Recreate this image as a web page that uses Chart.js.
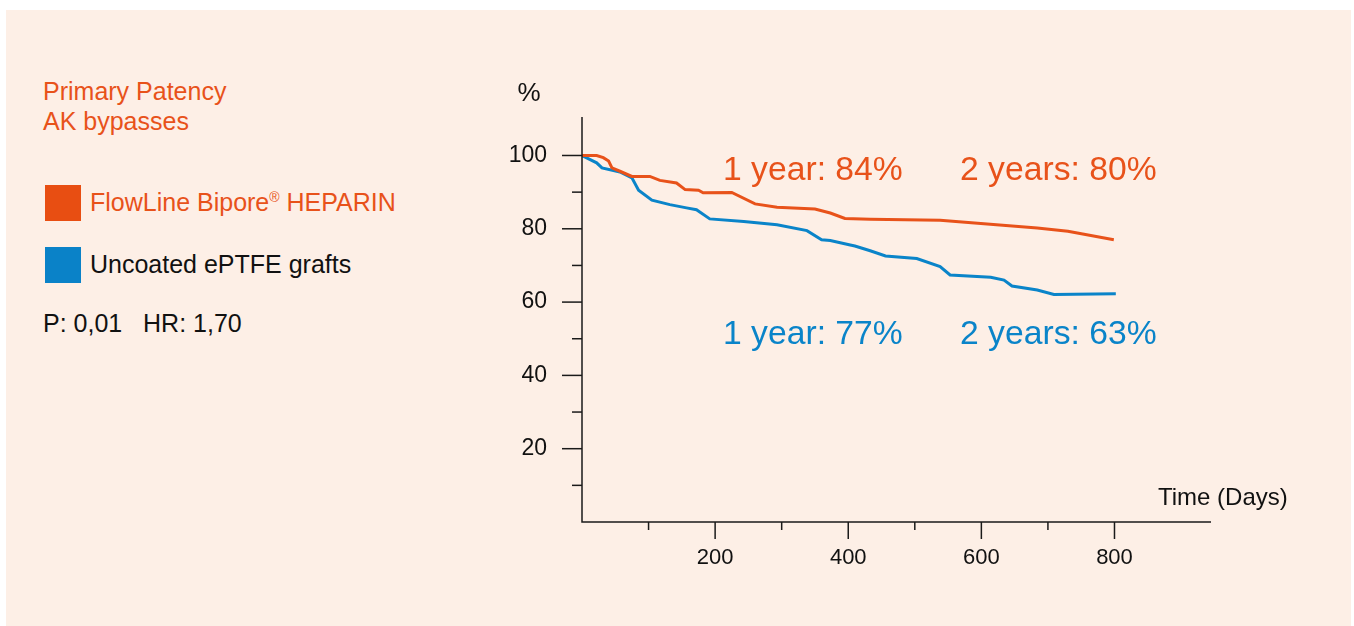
<!DOCTYPE html>
<html>
<head>
<meta charset="utf-8">
<script src="https://cdn.jsdelivr.net/npm/chart.js@4"></script>
<style>
  html, body { margin: 0; padding: 0; background: #ffffff; }
  body { width: 1354px; height: 626px; position: relative; overflow: hidden; font-family: "Liberation Sans", Arial, sans-serif; }
  #panel { position: absolute; left: 6px; top: 10px; width: 1345px; height: 616px; background: #fdefe6; }
  #wrap { position: absolute; left: 0; top: 0; width: 1354px; height: 626px; }
  .t { position: absolute; white-space: nowrap; font-size: 25px; line-height: 1; }
  .sw { position: absolute; width: 36px; height: 36px; }
</style>
</head>
<body>
<div id="panel"></div>
<div class="t" style="left:43px;top:79px;color:#e8521a;">Primary Patency</div>
<div class="t" style="left:43px;top:109px;color:#e8521a;">AK bypasses</div>
<div class="sw" style="left:45px;top:185px;background:#e84e12;"></div>
<div class="t" style="left:90px;top:190px;color:#e8521a;">FlowLine Bipore<sup style="font-size:14px;vertical-align:9px;line-height:0">®</sup> HEPARIN</div>
<div class="sw" style="left:45px;top:247px;background:#0a82c8;"></div>
<div class="t" style="left:90px;top:252px;color:#111;">Uncoated ePTFE grafts</div>
<div class="t" style="left:43px;top:311px;color:#111;">P: 0,01&nbsp;&nbsp;&nbsp;HR: 1,70</div>
<div id="wrap"><canvas id="c" width="1354" height="626"></canvas></div>
<script>
// ---- data ----
const heparinDays = [0, 22, 32, 40, 45, 57, 75, 102, 117, 142, 155, 175, 182, 225, 260, 293, 350, 373, 395, 433, 538, 684, 730, 799];
const heparinPct  = [100, 100, 99.4, 98.5, 96.6, 95.7, 94.3, 94.3, 93.2, 92.5, 90.7, 90.5, 89.8, 89.9, 86.8, 85.9, 85.4, 84.3, 82.8, 82.6, 82.3, 80.2, 79.3, 77];
const uncoatedDays = [0, 22, 30, 57, 75, 85, 105, 132, 157, 172, 192, 243, 293, 338, 360, 373, 403, 410, 433, 456, 503, 538, 553, 614, 634, 646, 684, 709, 802];
const uncoatedPct  = [100, 98, 96.6, 95.5, 93.9, 90.5, 87.8, 86.6, 85.7, 85.2, 82.7, 82, 81.1, 79.5, 77, 76.8, 75.6, 75.3, 74, 72.6, 71.9, 69.7, 67.4, 66.8, 66, 64.4, 63.3, 62.1, 62.3];
const xTickLabels = [200, 400, 600, 800];
const yTickLabels = [20, 40, 60, 80, 100];
const annotations = [
  { text: '1 year: 84%', series: 'heparin' },
  { text: '2 years: 80%', series: 'heparin' },
  { text: '1 year: 77%', series: 'uncoated' },
  { text: '2 years: 63%', series: 'uncoated' }
];

const ORANGE = '#e8521a';
const BLUE = '#0a84c9';
const FONT = '"Liberation Sans", Arial, sans-serif';

const toPts = (xs, ys) => xs.map((x, i) => ({ x: x, y: ys[i] }));

const axisPlugin = {
  id: 'axisPlugin',
  afterDraw(chart) {
    const ctx = chart.ctx;
    const xs = chart.scales.x, ys = chart.scales.y;
    const ca = chart.chartArea;
    ctx.save();
    ctx.strokeStyle = '#1a1a1a';
    ctx.lineWidth = 1.5;
    // axes lines
    ctx.beginPath();
    ctx.moveTo(ca.left, ca.top);
    ctx.lineTo(ca.left, ca.bottom);
    ctx.lineTo(ca.right, ca.bottom);
    ctx.stroke();
    // y ticks
    ys.ticks.forEach(t => {
      const v = t.value;
      if (v < 10 || v > 100 || Math.abs(v % 10) > 1e-6) return;
      const y = ys.getPixelForValue(v);
      const len = (v % 20 === 0) ? 20 : 10;
      ctx.beginPath();
      ctx.moveTo(ca.left - len, y);
      ctx.lineTo(ca.left, y);
      ctx.stroke();
    });
    // x ticks
    xs.ticks.forEach(t => {
      const v = t.value;
      if (v < 100 || v > 900 || Math.abs(v % 100) > 1e-6) return;
      const x = xs.getPixelForValue(v);
      const len = (v % 200 === 0) ? 17 : 8;
      ctx.beginPath();
      ctx.moveTo(x, ca.bottom);
      ctx.lineTo(x, ca.bottom + len);
      ctx.stroke();
    });
    // axis titles
    ctx.fillStyle = '#111';
    ctx.font = '26px ' + FONT;
    ctx.textAlign = 'center';
    ctx.textBaseline = 'alphabetic';
    ctx.fillText('%', ca.left - 53, 101);
    ctx.textAlign = 'left';
    ctx.font = '24px ' + FONT;
    ctx.fillText('Time (Days)', 1158, 505);
    // annotations
    ctx.font = '33.7px ' + FONT;
    const pos = [[723, 180], [960, 180], [723, 344], [960, 344]];
    annotations.forEach((a, i) => {
      ctx.fillStyle = a.series === 'heparin' ? ORANGE : BLUE;
      ctx.fillText(a.text, pos[i][0], pos[i][1]);
    });
    ctx.restore();
  }
};

new Chart(document.getElementById('c'), {
  type: 'scatter',
  data: {
    datasets: [
      { label: 'FlowLine Bipore® HEPARIN', data: toPts(heparinDays, heparinPct), showLine: true, borderColor: ORANGE, borderWidth: 3, pointRadius: 0, tension: 0, fill: false },
      { label: 'Uncoated ePTFE grafts', data: toPts(uncoatedDays, uncoatedPct), showLine: true, borderColor: BLUE, borderWidth: 3, pointRadius: 0, tension: 0, fill: false }
    ]
  },
  options: {
    responsive: false,
    animation: false,
    devicePixelRatio: 1,
    layout: { padding: { left: 500, right: 143, top: 117, bottom: 54 } },
    plugins: { legend: { display: false }, tooltip: { enabled: false } },
    scales: {
      x: {
        type: 'linear', min: 0, max: 945,
        border: { display: false },
        grid: { display: false },
        afterFit(s) { s.height = 50; },
        ticks: {
          stepSize: 100, autoSkip: false, maxRotation: 0, padding: 15,
          color: '#111', font: { family: FONT, size: 22 },
          callback: v => xTickLabels.includes(v) ? String(v) : ''
        }
      },
      y: {
        type: 'linear', min: 0, max: 110.5,
        border: { display: false },
        grid: { display: false },
        afterFit(s) { s.width = 82; },
        ticks: {
          stepSize: 10, autoSkip: false, padding: 27,
          color: '#111', font: { family: FONT, size: 23 },
          callback: v => yTickLabels.includes(v) ? String(v) : ''
        }
      }
    }
  },
  plugins: [axisPlugin]
});
</script>
</body>
</html>
